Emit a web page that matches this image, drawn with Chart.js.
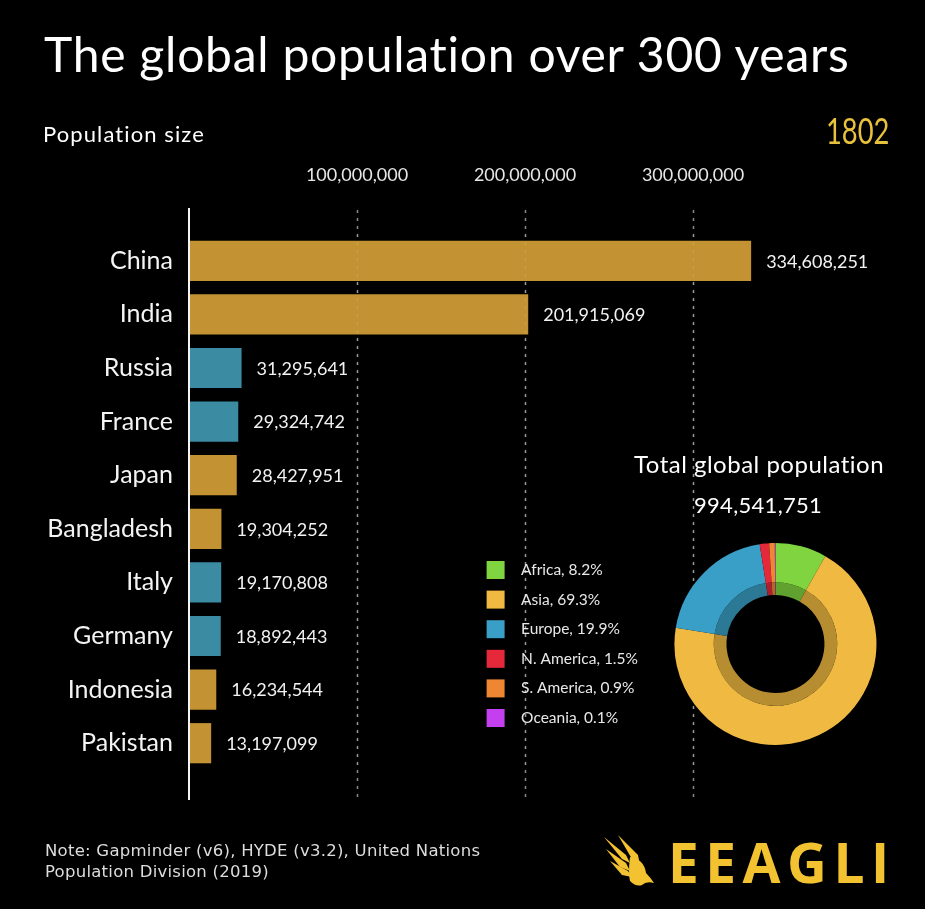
<!DOCTYPE html>
<html>
<head>
<meta charset="utf-8">
<script src="https://cdn.jsdelivr.net/npm/chart.js@4.4.0/dist/chart.umd.min.js"></script>
<style>
  html, body { margin: 0; padding: 0; background: #000; }
  #page { position: relative; width: 925px; height: 909px; overflow: hidden; background: #000; color: #fff; font-family: Lato, sans-serif; }
  .txt { position: absolute; white-space: nowrap; line-height: 1; }
  #title { left: 44px; top: 30px; font-size: 48px; letter-spacing: 0.75px; }
  #sub { left: 43px; top: 123px; font-size: 22px; letter-spacing: 1.1px; }
  #year { left: 826px; top: 112px; font-size: 36px; color: #e8c23c; transform: scaleX(0.76); transform-origin: left top; }
  #totLabel { left: 634px; top: 452px; font-size: 24px; letter-spacing: 0.5px; }
  #totValue { left: 694px; top: 494px; font-size: 22px; letter-spacing: 0.3px; }
  #note { left: 45px; top: 840px; font-size: 16.5px; line-height: 21px; letter-spacing: 0.25px; font-family: 'DejaVu Sans', sans-serif; color: #ddd; }
  #brand { left: 668px; top: 834px; font-size: 55px; font-weight: bold; color: #f2c230; letter-spacing: 6.5px; font-family: 'Open Sans', sans-serif; }
  #eagle { position: absolute; left: 600px; top: 833px; }
  #bars { position: absolute; left: 0; top: 0; }
  #donut { position: absolute; left: 475px; top: 530px; }
</style>
</head>
<body>
<div id="page">
  <canvas id="bars" width="925" height="909"></canvas>
  <canvas id="donut" width="428" height="228"></canvas>
  <div class="txt" id="title">The global population over 300 years</div>
  <div class="txt" id="sub">Population size</div>
  <div class="txt" id="year">1802</div>
  <div class="txt" id="totLabel">Total global population</div>
  <div class="txt" id="totValue">994,541,751</div>
  <div class="txt" id="note">Note: Gapminder (v6), HYDE (v3.2), United Nations<br>Population Division (2019)</div>
  <svg id="eagle" width="62" height="58" viewBox="0 0 62 58">
    <g fill="#f2c230">
      <polygon points="4,4 26,22 30,30 22,26"/>
      <polygon points="18,2 38,22 40,32 32,26"/>
      <polygon points="6,16 26,30 30,38 20,34"/>
      <polygon points="10,28 28,38 32,44 22,42"/>
      <path d="M30,24 Q44,26 46,40 Q50,44 54,50 Q46,48 42,52 Q36,54 30,48 Q28,40 30,24 Z"/>
    </g>
  </svg>
  <div class="txt" id="brand">EEAGLI</div>
</div>

<script>
  // bar chart data (year 1802)
  const countries = ['China', 'India', 'Russia', 'France', 'Japan', 'Bangladesh', 'Italy', 'Germany', 'Indonesia', 'Pakistan'];
  const population = [334608251, 201915069, 31295641, 29324742, 28427951, 19304252, 19170808, 18892443, 16234544, 13197099];
  const continentOf = ['Asia', 'Asia', 'Europe', 'Europe', 'Asia', 'Asia', 'Europe', 'Europe', 'Asia', 'Asia'];
  const axisTicks = [100000000, 200000000, 300000000];

  // doughnut data
  const regions = ['Africa', 'Asia', 'Europe', 'N. America', 'S. America', 'Oceania'];
  const regionShare = [8.2, 69.3, 19.9, 1.5, 0.9, 0.1];

  const barColors = { 'Asia': '#c39232', 'Europe': '#3b8ba3' };
  const regionColors = ['#80d43f', '#f0b941', '#3a9fc6', '#e5283a', '#ef8632', '#c43ff0'];

  function darker(hex, f) {
    const n = parseInt(hex.slice(1), 16);
    const r = Math.round(((n >> 16) & 255) * f);
    const g = Math.round(((n >> 8) & 255) * f);
    const b = Math.round((n & 255) * f);
    return `rgb(${r}, ${g}, ${b})`;
  }

  const fmt = v => v.toLocaleString('en-US');

  // axis line + dashed grid drawn a bit past the plot area, like the original
  const guides = {
    id: 'guides',
    beforeDatasetsDraw(chart) {
      const { ctx, chartArea, scales: { x } } = chart;
      const top = chartArea.top - 24, bottom = chartArea.bottom + 30;
      ctx.save();
      ctx.strokeStyle = '#8a8a8a';
      ctx.lineWidth = 1.5;
      ctx.setLineDash([3, 5]);
      axisTicks.forEach(t => {
        const px = Math.round(x.getPixelForValue(t)) + 0.5;
        ctx.beginPath(); ctx.moveTo(px, top); ctx.lineTo(px, bottom); ctx.stroke();
      });
      ctx.restore();
    },
    afterDatasetsDraw(chart) {
      const { ctx, chartArea, scales: { x } } = chart;
      const top = chartArea.top - 26, bottom = chartArea.bottom + 30;
      ctx.save();
      // faint grid over the bars
      ctx.strokeStyle = 'rgba(255,255,255,0.12)';
      ctx.lineWidth = 1.5;
      ctx.setLineDash([3, 5]);
      axisTicks.forEach(t => {
        const px = Math.round(x.getPixelForValue(t)) + 0.5;
        ctx.beginPath(); ctx.moveTo(px, chartArea.top); ctx.lineTo(px, chartArea.bottom); ctx.stroke();
      });
      ctx.setLineDash([]);
      ctx.strokeStyle = '#f4f4f4';
      ctx.lineWidth = 2;
      const x0 = x.getPixelForValue(0);
      ctx.beginPath(); ctx.moveTo(x0, top); ctx.lineTo(x0, bottom); ctx.stroke();

      // value labels at bar ends
      ctx.fillStyle = '#f2f2f2';
      ctx.font = '18px Lato, sans-serif';
      ctx.textBaseline = 'middle';
      ctx.textAlign = 'left';
      chart.getDatasetMeta(0).data.forEach((bar, i) => {
        ctx.fillText(fmt(population[i]), bar.x + 15, bar.y + 1);
      });
      ctx.restore();
    }
  };

  new Chart(document.getElementById('bars'), {
    type: 'bar',
    data: {
      labels: countries,
      datasets: [{
        data: population,
        backgroundColor: continentOf.map(c => barColors[c]),
        borderWidth: 0,
        categoryPercentage: 1,
        barPercentage: 0.75
      }]
    },
    options: {
      indexAxis: 'y',
      responsive: false,
      animation: false,
      devicePixelRatio: 1,
      layout: { padding: { left: 0, right: 64, top: 0, bottom: 139 } },
      plugins: { legend: { display: false }, tooltip: { enabled: false } },
      scales: {
        x: {
          position: 'top',
          min: 0,
          max: 400000000,
          afterFit: s => { s.height = 234; },
          afterBuildTicks: s => { s.ticks = axisTicks.map(v => ({ value: v })); },
          grid: { display: false, drawTicks: false },
          border: { display: false },
          ticks: {
            color: '#e6e6e6',
            font: { family: 'Lato', size: 18 },
            padding: 48,
            maxRotation: 0,
            callback: v => fmt(v)
          }
        },
        y: {
          afterFit: s => { s.width = 189; },
          grid: { display: false, drawTicks: false },
          border: { display: false },
          ticks: {
            color: '#f4f4f4',
            font: { family: 'Lato', size: 25 },
            padding: 16
          }
        }
      }
    },
    plugins: [guides]
  });

  new Chart(document.getElementById('donut'), {
    type: 'doughnut',
    data: {
      labels: regions,
      datasets: [
        { data: regionShare, backgroundColor: regionColors, borderWidth: 0, weight: 40 },
        { data: regionShare, backgroundColor: regionColors.map(c => darker(c, 0.76)), borderWidth: 0, weight: 13 }
      ]
    },
    options: {
      responsive: false,
      animation: false,
      devicePixelRatio: 1,
      cutout: '48.5%',
      layout: { padding: { left: 0, right: 0, top: 13, bottom: 13 } },
      plugins: {
        tooltip: { enabled: false },
        legend: {
          position: 'left',
          labels: {
            color: '#e8e8e8',
            font: { family: 'Lato', size: 15.5 },
            boxWidth: 18,
            boxHeight: 18,
            padding: 11.6,
            generateLabels: chart => regions.map((r, i) => ({
              text: '\u2002\u200A' + r + ', ' + regionShare[i] + '%',
              fillStyle: regionColors[i],
              strokeStyle: regionColors[i],
              lineWidth: 0,
              fontColor: '#e8e8e8',
              index: i
            }))
          }
        }
      }
    }
  });
</script>
</body>
</html>
